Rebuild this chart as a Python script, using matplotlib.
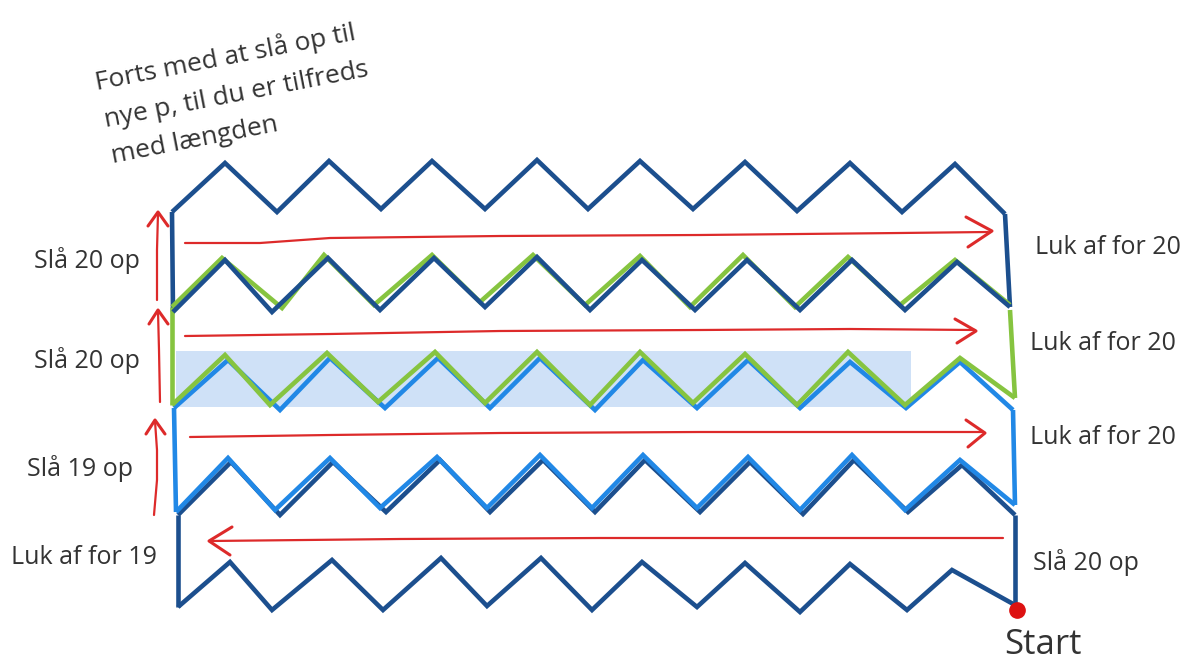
import matplotlib.pyplot as plt
from matplotlib.patches import Rectangle

# colours
DARK = '#1c4f8e'
LIGHT = '#2188e6'
GREEN = '#86c440'
RED = '#dd2a2a'
SHADE = '#cfe1f7'

# zigzag rows (pixel coordinates of the vertices, from left to right)
row1_x = [172, 225, 277, 329, 381, 432, 485, 537, 588, 640, 693, 745, 797, 850, 902, 955, 1005]
row1_y = [212, 163, 212, 161, 209, 161, 209, 160, 209, 161, 209, 162, 211, 163, 212, 164, 214]

row2_x = [173, 225, 272, 328, 380, 434, 485, 537, 590, 642, 695, 747, 800, 852, 905, 957, 1010]
row2_y = [312, 260, 312, 258, 310, 258, 307, 257, 310, 260, 310, 260, 310, 260, 310, 262, 307]
row2g_x = [172, 222, 282, 324, 374, 432, 480, 533, 585, 640, 690, 743, 795, 848, 900, 955, 1010]
row2g_y = [307, 258, 308, 255, 305, 255, 302, 255, 305, 256, 307, 255, 307, 257, 305, 260, 305]

row3_x = [172, 225, 270, 327, 378, 435, 485, 537, 590, 640, 693, 745, 797, 848, 905, 960, 1015]
row3_y = [405, 355, 405, 353, 402, 352, 403, 352, 405, 352, 403, 354, 405, 352, 405, 358, 398]
row3b_x = [174, 228, 280, 330, 385, 438, 490, 540, 595, 643, 697, 748, 800, 850, 906, 960, 1013]
row3b_y = [408, 360, 410, 358, 408, 358, 408, 358, 410, 360, 408, 360, 408, 362, 408, 362, 410]

row4_x = [176, 228, 275, 330, 380, 437, 487, 540, 592, 643, 697, 748, 800, 852, 905, 960, 1015]
row4_y = [512, 458, 510, 458, 508, 457, 508, 455, 508, 455, 508, 457, 510, 455, 510, 460, 505]
row4d_x = [178, 231, 280, 333, 386, 440, 490, 543, 595, 645, 700, 750, 803, 854, 908, 962, 1015]
row4d_y = [515, 462, 515, 462, 512, 460, 512, 460, 512, 460, 512, 462, 514, 460, 512, 465, 515]

row5_x = [178, 230, 272, 332, 383, 441, 487, 541, 592, 642, 697, 745, 800, 850, 907, 952, 1015]
row5_y = [607, 562, 610, 560, 610, 558, 606, 558, 610, 562, 607, 563, 612, 564, 610, 570, 605]

# shaded stitches of row 3
shade_x0, shade_x1, shade_y0, shade_y1 = 176, 911, 351, 407

# red arrows: shaft points and chevron head
arrows = [
    ([185, 260, 330, 500, 700, 900, 988], [243, 243, 238, 236, 235, 233, 232],
     [966, 992, 968], [217, 231, 247]),
    ([185, 330, 500, 700, 850, 975], [336, 334, 331, 330, 329, 330],
     [955, 976, 957], [319, 331, 343]),
    ([190, 330, 500, 700, 850, 983], [437, 435, 433, 432, 432, 432],
     [966, 985, 968], [420, 433, 447]),
    ([1003, 800, 600, 400, 210], [538, 538, 538, 539, 541],
     [232, 209, 230], [527, 541, 555]),
]
up_arrows = [
    ([157, 157, 158], [300, 250, 213], [148, 158, 168], [226, 212, 226]),
    ([160, 159, 158], [402, 350, 311], [149, 158, 168], [324, 310, 324]),
    ([154, 157, 157, 155], [515, 480, 450, 421], [146, 155, 165], [434, 420, 434]),
]

left_labels = [('Slå 20 op', 34, 260), ('Slå 20 op', 34, 361),
               ('Slå 19 op', 27, 468), ('Luk af for 19', 11, 557)]
right_labels = [('Luk af for 20', 1035, 247), ('Luk af for 20', 1030, 344),
                ('Luk af for 20', 1030, 438), ('Slå 20 op', 1033, 562)]
note_lines = ['Forts med at slå op til', 'nye p, til du er tilfreds', 'med længden']
note_x = [97, 106, 113]
note_y = [90, 127, 163]

dpi = 100
fig = plt.figure(figsize=(1195 / dpi, 662 / dpi), dpi=dpi)
ax = fig.add_axes([0, 0, 1, 1])
ax.set_xlim(0, 1195)
ax.set_ylim(662, 0)
ax.axis('off')

ax.add_patch(Rectangle((shade_x0, shade_y0), shade_x1 - shade_x0, shade_y1 - shade_y0,
                       color=SHADE, lw=0, zorder=0))

kw = dict(lw=3.3, solid_joinstyle='miter', solid_capstyle='butt')
# side connections
ax.plot([row1_x[-1], row2_x[-1]], [row1_y[-1], row2_y[-1]], color=DARK, **kw)
ax.plot([row2_x[0], row1_x[0]], [row2_y[0], row1_y[0]], color=DARK, **kw)
ax.plot([row2g_x[0], row3_x[0]], [row2g_y[0], row3_y[0]], color=GREEN, **kw)
ax.plot([row3_x[-1], row2_x[-1]], [row3_y[-1], row2_y[-1] + 3], color=GREEN, **kw)
ax.plot([row3b_x[0], row4_x[0]], [row3b_y[0], row4_y[0]], color=LIGHT, **kw)
ax.plot([row3b_x[-1], row4_x[-1]], [row3b_y[-1], row4_y[-1]], color=LIGHT, **kw)
ax.plot([row4d_x[0], row5_x[0]], [row4d_y[0], row5_y[0]], color=DARK, **kw)
ax.plot([row5_x[-1], row4d_x[-1]], [row5_y[-1], row4d_y[-1]], color=DARK, **kw)

ax.plot(row1_x, row1_y, color=DARK, **kw)
ax.plot(row2g_x, row2g_y, color=GREEN, **kw)
ax.plot(row2_x, row2_y, color=DARK, **kw)
ax.plot(row3b_x, row3b_y, color=LIGHT, **kw)
ax.plot(row3_x, row3_y, color=GREEN, **kw)
ax.plot(row4d_x, row4d_y, color=DARK, **kw)
ax.plot(row4_x, row4_y, color=LIGHT, **kw)
ax.plot(row5_x, row5_y, color=DARK, **kw)

for sx, sy, hx, hy in arrows + up_arrows:
    ax.plot(sx, sy, color=RED, lw=1.6, solid_capstyle='round')
    ax.plot(hx, hy, color=RED, lw=2.2, solid_capstyle='round', solid_joinstyle='round')

ax.plot([row5_x[-1] + 2], [row5_y[-1] + 5], 'o', color='#dd1111', ms=11, zorder=5)

font = dict(family=['Open Sans', 'DejaVu Sans'], color='#333333')
for txt, x, y in left_labels + right_labels:
    ax.text(x, y, txt, fontsize=18, va='center', ha='left', **font)
ax.text(1004, 645, 'Start', fontsize=25, va='center', ha='left', **font)
for txt, x, y in zip(note_lines, note_x, note_y):
    ax.text(x, y, txt, fontsize=19, rotation=11, rotation_mode='anchor',
            ha='left', va='baseline', **font)

fig.savefig('out.png', dpi=dpi)
